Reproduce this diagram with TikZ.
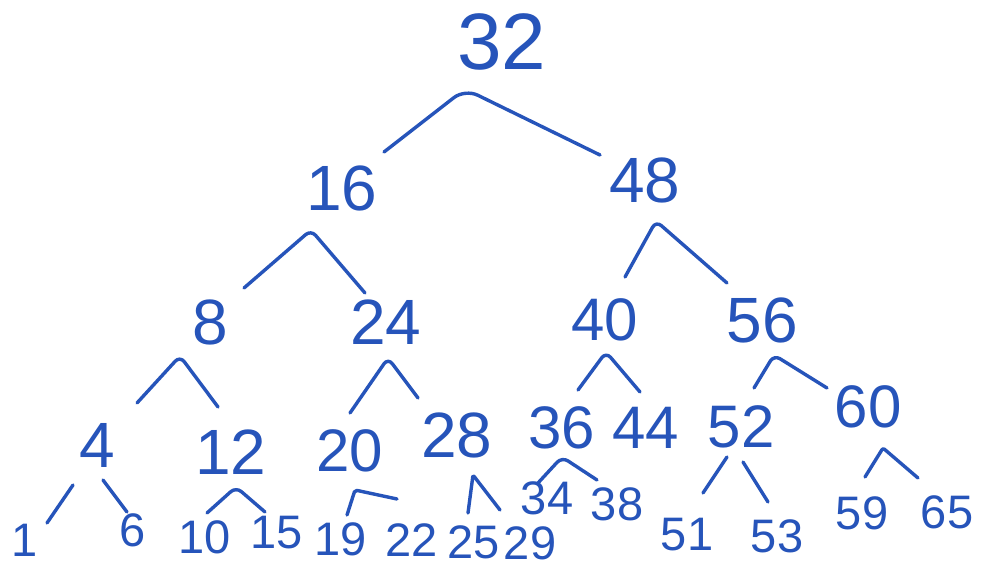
\documentclass[tikz,border=0pt]{standalone}
\usepackage{fontspec}
\setmainfont{Liberation Sans}
\definecolor{ink}{RGB}{38,84,186}
\tikzset{
  num/.style={text=ink, inner sep=0pt, anchor=center},
  top/.style={num, font=\fontsize{80}{80}\selectfont},
  mid/.style={num, font=\fontsize{64}{64}\selectfont},
  low/.style={num, font=\fontsize{60}{60}\selectfont},
  leaf/.style={num, font=\fontsize{47}{47}\selectfont},
  edge/.style={draw=ink, line width=3.4pt, line cap=round, line join=round, rounded corners=7pt}
}
\begin{document}
\begin{tikzpicture}[x=1pt,y=-1pt]
\useasboundingbox[fill=white] (0,0) rectangle (990,569);
% nodes
\node[top]  (n32) at (502,42) {32};
\node[mid]  (n16) at (342,188) {16};
\node[mid]  (n48) at (645,180) {48};
\node[mid]  (n8)  at (210,322) {8};
\node[mid]  (n24) at (386,322) {24};
\node[low]  (n40) at (605,320) {40};
\node[mid]  (n56) at (762,320) {56};
\node[mid]  (n4)  at (97,445) {4};
\node[mid]  (n12) at (231,452) {12};
\node[low]  (n20) at (350,451) {20};
\node[mid]  (n28) at (457,435) {28};
\node[low]  (n36) at (562,428) {36};
\node[low]  (n44) at (646,428) {44};
\node[low]  (n52) at (741,427) {52};
\node[low]  (n60) at (868,407) {60};
\node[leaf] (n1)  at (25,540) {1};
\node[leaf] (n6)  at (133,530) {6};
\node[leaf] (n10) at (205,537) {10};
\node[leaf] (n15) at (277,533) {15};
\node[leaf] (n19) at (341,539) {19};
\node[leaf] (n22) at (412,540) {22};
\node[leaf] (n25) at (474,542) {25};
\node[leaf] (n29) at (530,543) {29};
\node[leaf] (n34) at (547,498) {34};
\node[leaf] (n38) at (617,504) {38};
\node[leaf] (n51) at (687,535) {51};
\node[leaf] (n53) at (777,536) {53};
\node[leaf] (n59) at (862,513) {59};
\node[leaf] (n65) at (947,512) {65};
% connector end points
\coordinate (a32l) at (384,152); \coordinate (a32) at (465,89); \coordinate (a32r) at (600,155);
\coordinate (a16l) at (244,288); \coordinate (a16) at (311,230); \coordinate (a16r) at (365,293);
\coordinate (a48l) at (625,277); \coordinate (a48) at (656,221); \coordinate (a48r) at (727,283);
\coordinate (a8l) at (137,403);  \coordinate (a8) at (180,356);  \coordinate (a8r) at (218,407);
\coordinate (a24l) at (350,413); \coordinate (a24) at (388,358); \coordinate (a24r) at (418,398);
\coordinate (a40l) at (578,390); \coordinate (a40) at (606,352); \coordinate (a40r) at (640,392);
\coordinate (a56l) at (754,388); \coordinate (a56) at (774,355); \coordinate (a56r) at (827,388);
\coordinate (a4l1) at (47,523);  \coordinate (a4l2) at (73,485);
\coordinate (a4r1) at (103,480); \coordinate (a4r2) at (127,512);
\coordinate (a12l) at (207,513); \coordinate (a12) at (236,487); \coordinate (a12r) at (265,512);
\coordinate (a20l) at (347,515); \coordinate (a20) at (355,490); \coordinate (a20r) at (397,499);
\coordinate (a28l) at (468,513); \coordinate (a28) at (473,475); \coordinate (a28r) at (500,510);
\coordinate (a36l) at (538,483); \coordinate (a36) at (562,457); \coordinate (a36r) at (597,480);
\coordinate (a52l1) at (703,493); \coordinate (a52l2) at (727,457);
\coordinate (a52r1) at (743,462); \coordinate (a52r2) at (768,502);
\coordinate (a60l) at (865,477); \coordinate (a60) at (883,448); \coordinate (a60r) at (918,478);
% connectors
\draw[edge, rounded corners=14pt] (a32l) -- (a32) -- (a32r);
\draw[edge] (a16l) -- (a16) -- (a16r);
\draw[edge] (a48l) -- (a48) -- (a48r);
\draw[edge] (a8l) -- (a8) -- (a8r);
\draw[edge] (a24l) -- (a24) -- (a24r);
\draw[edge] (a40l) -- (a40) -- (a40r);
\draw[edge] (a56l) -- (a56) -- (a56r);
\draw[edge] (a4l1) -- (a4l2);
\draw[edge] (a4r1) -- (a4r2);
\draw[edge] (a12l) -- (a12) -- (a12r);
\draw[edge, rounded corners=2pt] (a20l) -- (a20) -- (a20r);
\draw[edge, rounded corners=2pt] (a28l) -- (a28) -- (a28r);
\draw[edge] (a36l) -- (a36) -- (a36r);
\draw[edge] (a52l1) -- (a52l2);
\draw[edge] (a52r1) -- (a52r2);
\draw[edge, rounded corners=2pt] (a60l) -- (a60) -- (a60r);
\end{tikzpicture}
\end{document}
